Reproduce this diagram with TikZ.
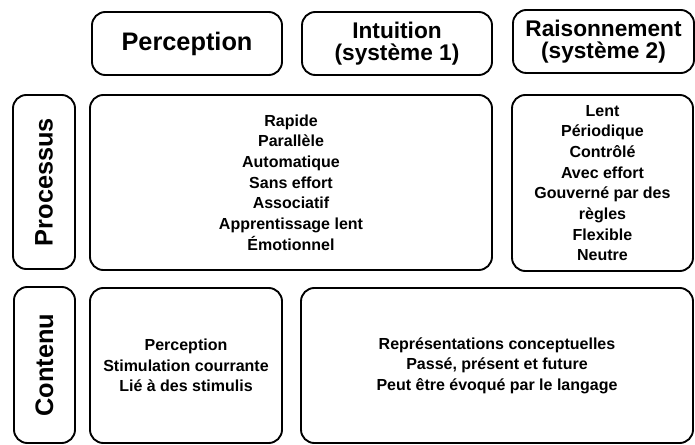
\documentclass[tikz,border=0pt]{standalone}
\usepackage{fontspec}
\setmainfont{Liberation Sans}
\newcommand{\px}{0.75pt}
\begin{document}
\begin{tikzpicture}[
        x=\px, y=-\px, % 1 единица = 1 пиксель
        box/.style = {draw, line width=1.4pt, rounded corners=10pt, align=center, inner sep=0pt,
            font=\bfseries\fontsize{12}{15.5}\selectfont}, % Стиль рамок
        head/.style = {box, font=\bfseries\fontsize{17}{16}\selectfont}, % Заголовки
        side/.style = {box, rotate=90, font=\bfseries\fontsize{19}{20}\selectfont}, % Боковые подписи
    ]
    \useasboundingbox (0,0) rectangle (695,445);

    % Заголовки столбцов
    \node[head, font=\bfseries\fontsize{19}{20}\selectfont, minimum width=190*\px, minimum height=63*\px] (perception) at (187,43.5) {Perception};
    \node[head, minimum width=190*\px, minimum height=63*\px] (intuition) at (397,43.5) {Intuition\\(système 1)};
    \node[head, minimum width=181*\px, minimum height=63*\px] (raisonnement) at (603.5,41.5) {Raisonnement\\(système 2)};

    % Строка "Processus"
    \node[side, minimum width=174*\px, minimum height=62*\px] (processus) at (44,182) {Processus};
    \node[box, minimum width=402*\px, minimum height=175*\px] (rapide) at (291,182.5)
        {Rapide\\Parallèle\\Automatique\\Sans effort\\Associatif\\Apprentissage lent\\Émotionnel};
    \node[box, minimum width=181*\px, minimum height=176*\px] (lent) at (602.5,183)
        {Lent\\Périodique\\Contrôlé\\Avec effort\\Gouverné par des\\règles\\Flexible\\Neutre};

    % Строка "Contenu"
    \node[side, minimum width=156*\px, minimum height=61*\px] (contenu) at (44.5,365) {Contenu};
    \node[box, minimum width=192*\px, minimum height=155*\px] (stimulus) at (186,365.5)
        {Perception\\Stimulation courrante\\Lié à des stimulis};
    \node[box, minimum width=392*\px, minimum height=155*\px] (concepts) at (497,365.5)
        {Représentations conceptuelles\\Passé, présent et future\\Peut être évoqué par le langage};
\end{tikzpicture}
\end{document}
